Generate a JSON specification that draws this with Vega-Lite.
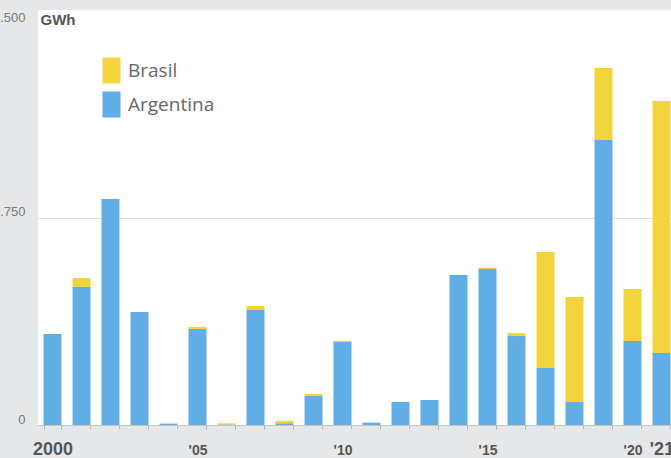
{
  "$schema": "https://vega.github.io/schema/vega-lite/v6.json",
  "width": 633,
  "height": 415,
  "autosize": {"type": "none"},
  "padding": {"left": 38, "top": 10, "right": 0, "bottom": 33},
  "background": "#e6e7e9",
  "config": {
    "view": {"fill": "#ffffff", "stroke": null},
    "font": "Liberation Sans"
  },
  "data": {
    "values": [
      {"year": 2000, "country": "Argentina", "gwh": 767}, {"year": 2000, "country": "Brasil", "gwh": 0},
      {"year": 2001, "country": "Argentina", "gwh": 1164}, {"year": 2001, "country": "Brasil", "gwh": 76},
      {"year": 2002, "country": "Argentina", "gwh": 1906}, {"year": 2002, "country": "Brasil", "gwh": 0},
      {"year": 2003, "country": "Argentina", "gwh": 953}, {"year": 2003, "country": "Brasil", "gwh": 0},
      {"year": 2004, "country": "Argentina", "gwh": 12}, {"year": 2004, "country": "Brasil", "gwh": 0},
      {"year": 2005, "country": "Argentina", "gwh": 810}, {"year": 2005, "country": "Brasil", "gwh": 17},
      {"year": 2006, "country": "Argentina", "gwh": 5}, {"year": 2006, "country": "Brasil", "gwh": 10},
      {"year": 2007, "country": "Argentina", "gwh": 970}, {"year": 2007, "country": "Brasil", "gwh": 34},
      {"year": 2008, "country": "Argentina", "gwh": 15}, {"year": 2008, "country": "Brasil", "gwh": 20},
      {"year": 2009, "country": "Argentina", "gwh": 245}, {"year": 2009, "country": "Brasil", "gwh": 17},
      {"year": 2010, "country": "Argentina", "gwh": 705}, {"year": 2010, "country": "Brasil", "gwh": 5},
      {"year": 2011, "country": "Argentina", "gwh": 20}, {"year": 2011, "country": "Brasil", "gwh": 0},
      {"year": 2012, "country": "Argentina", "gwh": 194}, {"year": 2012, "country": "Brasil", "gwh": 0},
      {"year": 2013, "country": "Argentina", "gwh": 211}, {"year": 2013, "country": "Brasil", "gwh": 0},
      {"year": 2014, "country": "Argentina", "gwh": 1265}, {"year": 2014, "country": "Brasil", "gwh": 0},
      {"year": 2015, "country": "Argentina", "gwh": 1316}, {"year": 2015, "country": "Brasil", "gwh": 10},
      {"year": 2016, "country": "Argentina", "gwh": 750}, {"year": 2016, "country": "Brasil", "gwh": 25},
      {"year": 2017, "country": "Argentina", "gwh": 481}, {"year": 2017, "country": "Brasil", "gwh": 978},
      {"year": 2018, "country": "Argentina", "gwh": 194}, {"year": 2018, "country": "Brasil", "gwh": 886},
      {"year": 2019, "country": "Argentina", "gwh": 2404}, {"year": 2019, "country": "Brasil", "gwh": 607},
      {"year": 2020, "country": "Argentina", "gwh": 708}, {"year": 2020, "country": "Brasil", "gwh": 439},
      {"year": 2021, "country": "Argentina", "gwh": 607}, {"year": 2021, "country": "Brasil", "gwh": 2125}
    ]
  },
  "mark": {"type": "bar"},
  "encoding": {
    "x": {
      "field": "year",
      "type": "ordinal",
      "scale": {"range": [0, 638], "paddingInner": 0.38, "paddingOuter": 0.19},
      "axis": {
        "title": null,
        "tickBand": "extent",
        "tickSize": 4,
        "tickColor": "#b5b5b5",
        "domainColor": "#c4c4c4",
        "labelAngle": 0,
        "labelOverlap": false,
        "labelBaseline": "alphabetic",
        "labelPadding": 25,
        "labelColor": "#555555",
        "labelFont": "Liberation Sans",
        "labelFontWeight": "bold",
        "labelFontSize": {"condition": {"test": "datum.value == 2000 || datum.value == 2021", "value": 18}, "value": 14},
        "labelExpr": "datum.value == 2000 ? '2000' : ((datum.value % 5 == 0 || datum.value == 2021) ? \"'\" + substring(toString(datum.value), 2) : '')"
      }
    },
    "y": {
      "field": "gwh",
      "type": "quantitative",
      "stack": "zero",
      "scale": {"domain": [0, 3500], "nice": false},
      "axis": {
        "title": "GWh",
        "titleAngle": 0,
        "titleX": 2,
        "titleY": 2,
        "titleAlign": "left",
        "titleBaseline": "top",
        "titleFont": "Liberation Sans",
        "titleFontSize": 15,
        "titleFontWeight": "bold",
        "titleColor": "#555555",
        "values": [0, 1750, 3500],
        "ticks": false,
        "domain": false,
        "grid": true,
        "gridColor": "#dcdcdc",
        "gridOpacity": {"condition": {"test": "datum.value == 3500", "value": 0}, "value": 1},
        "labelPadding": 13,
        "labelFont": "Liberation Sans",
        "labelFontSize": 13,
        "labelColor": "#7a7a7a",
        "labelBaseline": "middle",
        "labelOffset": {"condition": {"test": "datum.value == 3500", "value": 7}, "value": -6},
        "labelExpr": "replace(format(datum.value, ','), ',', '.')"
      }
    },
    "color": {
      "field": "country",
      "type": "nominal",
      "scale": {"domain": ["Brasil", "Argentina"], "range": ["#F2D43D", "#61ADE6"]},
      "legend": {
        "title": null,
        "orient": "none",
        "legendX": 64,
        "legendY": 51,
        "symbolType": "M-1,-1.444H1V1.444H-1Z",
        "symbolSize": 324,
        "symbolStrokeWidth": 0,
        "symbolOpacity": 1,
        "rowPadding": 7,
        "labelFont": "Open Sans",
        "labelFontSize": 19,
        "labelColor": "#666666",
        "labelOffset": 7
      }
    },
    "order": {"field": "country", "sort": "ascending"}
  }
}
